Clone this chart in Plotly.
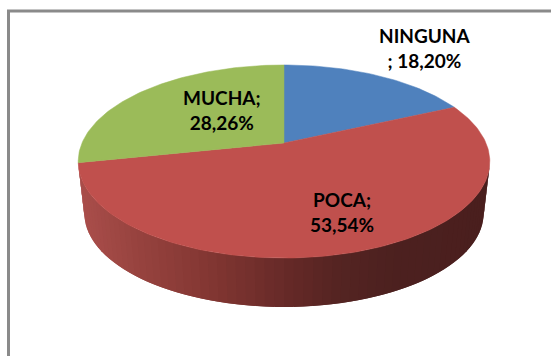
import math
import plotly.graph_objects as go

categories = ["NINGUNA", "POCA", "MUCHA"]
values = [18.20, 53.54, 28.26]
label_texts = ["NINGUNA<br>; 18,20%", "POCA;<br>53,54%", "MUCHA;<br>28,26%"]
colors = ["#4F81BD", "#C0504D", "#9BBB59"]

WIDTH, HEIGHT = 551, 356
CX, CY_TOP, CY_BOT = 284.0, 143.0, 195.4
AX, BY, K, BOTTOM_SCALE = 202.0, 93.0, 0.1917, 0.97
LABEL_POS = [(424, 48), (342, 212), (222, 110)]
WALL_STOPS = [(78, (170, 78, 75)), (140, (150, 66, 62)), (210, (130, 54, 50)),
              (284, (103, 42, 40)), (340, (84, 36, 34)), (400, (76, 32, 31)), (490, (74, 31, 30))]


def project(theta, cy, scale=1.0):
    u, v = math.sin(theta), math.cos(theta)
    d = 1 + K * v
    return CX + scale * AX * u / d, cy - scale * BY * v / d


def wall_color(x):
    for (x0, c0), (x1, c1) in zip(WALL_STOPS, WALL_STOPS[1:]):
        if x <= x1:
            t = max(0.0, (x - x0) / (x1 - x0))
            return "rgb(%d,%d,%d)" % tuple(round(a + (b - a) * t) for a, b in zip(c0, c1))
    return "rgb(%d,%d,%d)" % WALL_STOPS[-1][1]


fig = go.Figure()

# side wall: strips painted from right to left, each one overlapping the next so no seams show
first = math.radians(101)
last = math.radians(259)
N = 70
for i in range(N):
    t0 = first + (last - first) * i / N
    t1 = min(last, first + (last - first) * (i + 2) / N)
    arc = [t0 + (t1 - t0) * j / 4 for j in range(5)]
    top = [project(t, CY_TOP) for t in arc]
    bot = [project(t, CY_BOT, BOTTOM_SCALE) for t in reversed(arc)]
    ring = top + bot + top[:1]
    col = wall_color((top[0][0] + top[2][0]) / 2)
    fig.add_trace(go.Scatter(x=[p[0] for p in ring], y=[p[1] for p in ring],
                             mode="lines", fill="toself", fillcolor=col,
                             line=dict(width=0), hoverinfo="skip", showlegend=False))

# top surface: one wedge per category, clockwise from 12 o'clock
total = sum(values)
start = 0.0
for name, val, col in zip(categories, values, colors):
    end = start + val / total * 2 * math.pi
    steps = max(8, int(val * 3))
    pts = [project(start + (end - start) * j / steps, CY_TOP) for j in range(steps + 1)]
    xs = [CX] + [p[0] for p in pts] + [CX]
    ys = [CY_TOP] + [p[1] for p in pts] + [CY_TOP]
    fig.add_trace(go.Scatter(x=xs, y=ys, mode="lines", fill="toself", fillcolor=col,
                             line=dict(color=col, width=0.5), name=name,
                             hoverinfo="name", showlegend=False))
    start = end

for text, (lx, ly) in zip(label_texts, LABEL_POS):
    fig.add_annotation(x=lx, y=ly, text="<b>%s</b>" % text, showarrow=False, xanchor="center",
                       yanchor="middle", align="center",
                       font=dict(family="Lato, Carlito, sans-serif", size=19, color="#000000"))

# chart-area frame: only the top and left edges fall inside the picture
frame = dict(type="line", xref="x", yref="y", line=dict(color="#8A8A8A", width=3))
fig.add_shape(x0=7, y0=11, x1=WIDTH, y1=11, **frame)
fig.add_shape(x0=8.5, y0=10, x1=8.5, y1=HEIGHT, **frame)

fig.update_layout(width=WIDTH, height=HEIGHT, margin=dict(l=0, r=0, t=0, b=0),
                  paper_bgcolor="white", plot_bgcolor="white",
                  xaxis=dict(range=[0, WIDTH], visible=False, fixedrange=True),
                  yaxis=dict(range=[HEIGHT, 0], visible=False, fixedrange=True))

fig.write_html("out.html", config={"displayModeBar": False},
               post_script="document.body.style.margin='0';document.body.style.overflow='hidden';")
